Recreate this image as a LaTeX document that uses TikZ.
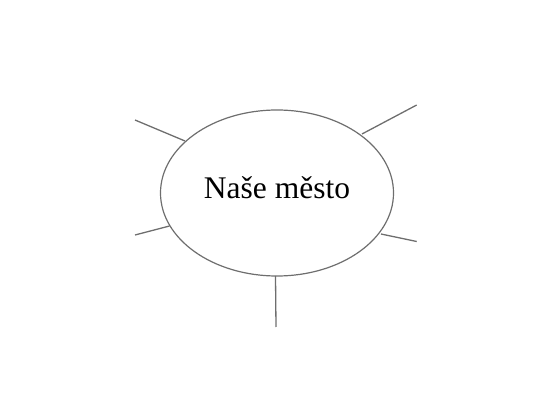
\documentclass[tikz,border=0pt]{standalone}
\usepackage{fontspec}
\setmainfont{Liberation Serif}
\usetikzlibrary{shapes.geometric}
\definecolor{linegray}{RGB}{110,110,110}
\tikzset{
  bubble/.style={draw=linegray, line width=1.2pt, ellipse, minimum width=233pt, minimum height=166pt, inner sep=0pt, font=\fontsize{31.5}{36}\selectfont},
  spoke/.style={draw=linegray, line width=1.3pt}
}
\begin{document}
\begin{tikzpicture}[x=1pt,y=-1pt]
\useasboundingbox (0,0) rectangle (552,414);
\node[bubble] (c) at (277,193) {};
\node[font=\fontsize{31.5}{36}\selectfont, inner sep=0pt] (t) at (277,188) {Naše město};
\coordinate (ul) at (135,120);
\coordinate (ur) at (416.7,105);
\coordinate (ll) at (135,235);
\coordinate (lr) at (416.7,241.5);
\coordinate (bt) at (276,327);
\coordinate (ula) at (185,141);
\coordinate (ura) at (362,134);
\coordinate (lla) at (169.5,226);
\coordinate (lra) at (381,234);
\coordinate (bta) at (275.5,276);
\draw[spoke] (ul) -- (ula);
\draw[spoke] (ur) -- (ura);
\draw[spoke] (ll) -- (lla);
\draw[spoke] (lr) -- (lra);
\draw[spoke] (bt) -- (bta);
\end{tikzpicture}
\end{document}
